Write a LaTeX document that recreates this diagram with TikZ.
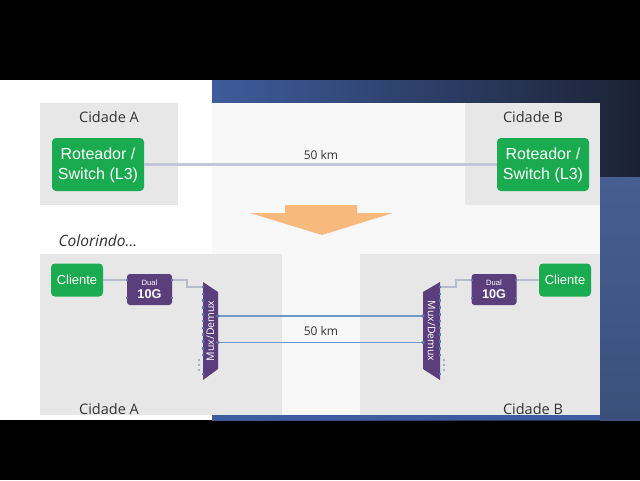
\documentclass[tikz,border=0pt]{standalone}
\usepackage{fontspec}
\setmainfont{Liberation Sans}
\newfontfamily\osf{Open Sans}
\usetikzlibrary{calc}
\definecolor{grn}{RGB}{26,170,80}
\definecolor{boxgray}{RGB}{231,231,231}
\definecolor{slidebg}{RGB}{248,248,248}
\definecolor{purp}{RGB}{91,62,124}
\definecolor{fiber}{RGB}{112,152,200}
\definecolor{wire}{RGB}{182,188,204}
\definecolor{portc}{RGB}{95,122,172}
\definecolor{orng}{RGB}{248,186,124}
\definecolor{txt}{RGB}{51,51,51}
\definecolor{blA}{RGB}{62,92,155}
\definecolor{blB}{RGB}{28,34,52}
\definecolor{blC}{RGB}{70,94,145}
\definecolor{blD}{RGB}{62,92,160}
\tikzset{
  greenbox/.style={fill=grn, rounded corners=4pt, text=white, align=center, inner sep=0pt},
  dualbox/.style={fill=purp, rounded corners=3pt, text=white, align=center, inner sep=0pt,
    minimum width=45pt, minimum height=31pt},
  citylabel/.style={font=\osf\fontsize{14.5}{17}\selectfont, text=txt, anchor=base},
  kmlabel/.style={font=\osf\fontsize{12}{14}\selectfont, text=txt, anchor=base},
  muxlabel/.style={font=\osf\fontsize{10.5}{12}\selectfont, text=white, inner sep=0pt},
  wireline/.style={draw=wire, line width=2pt},
  fiberline/.style={draw=fiber, line width=1.7pt},
  portsq/.style={fill=portc},
}
\begin{document}
\begin{tikzpicture}[x=1pt,y=-1pt]
\useasboundingbox (0,0) rectangle (640,480);
% screen background
\fill[black] (0,0) rectangle (640,480);
\fill[white] (0,80) rectangle (212,420);
\shade[left color=blA, right color=blB] (212,80) rectangle (640,420);
\shade[top color=blC, bottom color=blC!85!black] (600,177) rectangle (640,420);
\fill[blD] (212,415) rectangle (600,420);
% slide
\fill[slidebg] (212,103) rectangle (600,415);
% gray areas
\fill[boxgray] (40,103) rectangle (178,205);
\fill[boxgray] (465,103) rectangle (600,205);
\fill[boxgray] (40,254) rectangle (282,415);
\fill[boxgray] (360,254) rectangle (600,415);
% top part
\node[citylabel] (cityA1) at (109,122) {Cidade A};
\node[citylabel] (cityB1) at (533,122) {Cidade B};
\node[greenbox, minimum width=92pt, minimum height=53pt,
  font=\fontsize{16}{20}\selectfont] (rA) at (98,164.5) {\rule{0pt}{13pt}Roteador /\\Switch (L3)};
\node[greenbox, minimum width=92pt, minimum height=53pt,
  font=\fontsize{16}{20}\selectfont] (rB) at (543,164.5) {\rule{0pt}{13pt}Roteador /\\Switch (L3)};
\draw[draw={rgb,255:red,195;green,198;blue,214}, line width=2.2pt] (rA.east) -- (rB.west);
\node[kmlabel] (km1) at (321,159) {50 km};
% orange arrow
\fill[orng] (285,205) -- (357,205) -- (357,213) -- (393,213) -- (322,235) -- (250,213) -- (285,213) -- cycle;
\node[font=\osf\itshape\fontsize{15.5}{18}\selectfont, text=txt, anchor=base west] (color) at (55,246) {Colorindo...};
% bottom part, side A
\node[greenbox, minimum width=52pt, minimum height=33pt,
  font=\fontsize{13}{15}\selectfont] (cA) at (77,280) {Cliente};
\node[dualbox] (dA) at (149.5,289.5) {\fontsize{7.6}{8}\selectfont Dual\\[1pt]\fontsize{12.7}{14}\selectfont\bfseries 10G};
\coordinate (dAi) at (127,280);
\coordinate (dAo) at (172,280);
\fill[purp] (203,282) -- (218,292) -- (218,369) -- (203,380) -- cycle;
\node[muxlabel, rotate=90] (muxA) at (210.5,331) {Mux/Demux};
\coordinate (mA0) at (203,287);
\coordinate (mAr1) at (218,316);
\coordinate (mAr2) at (218,342.5);
\draw[wireline] (cA.east) -- (dAi);
\draw[wireline] (dAo) -- ++(15,0) |- (mA0);
% bottom part, side B
\node[greenbox, minimum width=52pt, minimum height=33pt,
  font=\fontsize{13}{15}\selectfont] (cB) at (565,280) {Cliente};
\node[dualbox] (dB) at (494,289.5) {\fontsize{7.6}{8}\selectfont Dual\\[1pt]\fontsize{12.7}{14}\selectfont\bfseries 10G};
\coordinate (dBi) at (516,280);
\coordinate (dBo) at (472,280);
\fill[purp] (440,282) -- (423,292) -- (423,369) -- (440,380) -- cycle;
\node[muxlabel, rotate=-90] (muxB) at (431.5,331) {Mux/Demux};
\coordinate (mB0) at (440,287);
\coordinate (mBl1) at (423,316);
\coordinate (mBl2) at (423,342.5);
\draw[wireline] (cB.west) -- (dBi);
\draw[wireline] (dBo) -- ++(-16,0) |- (mB0);
% ports
\foreach \p in {(127,280),(127,298),(172,280),(172,298),(472,280),(472,298),(516,280),(516,298)}
  \fill[portsq] \p ++(-1.3,-1.3) rectangle ++(2.6,2.6);
\foreach \k in {0,...,10} {
  \fill[portsq] (201.8,{285.8+6.8*\k}) rectangle ++(2.5,2.5);
  \fill[portsq] (438.7,{285.8+6.8*\k}) rectangle ++(2.5,2.5);
}
\fill[portsq] (201.8,372.5) rectangle ++(2.5,2.5);
\fill[portsq] (438.7,372.5) rectangle ++(2.5,2.5);
\foreach \yy in {360,365,370} {
  \fill[portsq] (199,\yy) circle (0.9);
  \fill[portsq] (444,\yy) circle (0.9);
}
% fibers
\draw[fiberline] (mAr1) -- (mBl1);
\draw[fiberline] (mAr2) -- (mBl2);
\foreach \c in {mAr1,mAr2,mBl1,mBl2} \fill[portsq] (\c) circle (1.8);
\node[kmlabel] (km2) at (321,335) {50 km};
\node[citylabel] (cityA2) at (109,414) {Cidade A};
\node[citylabel] (cityB2) at (533,414) {Cidade B};
\end{tikzpicture}
\end{document}
